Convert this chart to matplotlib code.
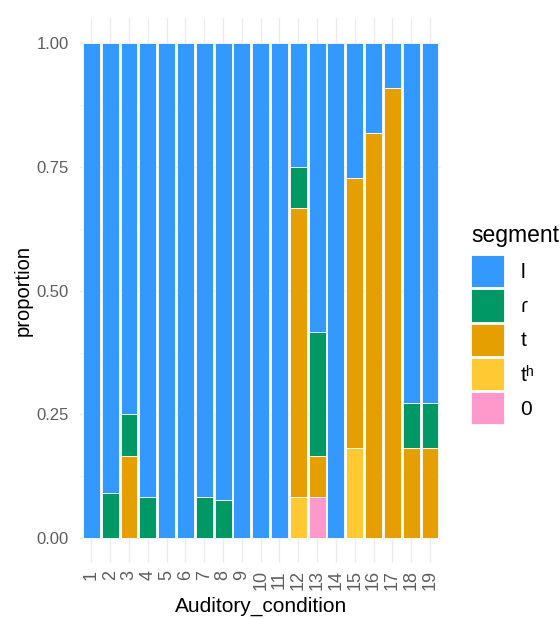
import matplotlib
matplotlib.use('Agg')
import matplotlib.pyplot as plt
from matplotlib.patches import Patch
import numpy as np

plt.rcParams['font.family'] = ['Liberation Sans', 'DejaVu Sans']

conditions = [str(i) for i in range(1, 20)]
segments = ['l', 'ɾ', 't', 'tʰ', '0']
seg_colors = ['#3399FF', '#009966', '#E69F00', '#FFC933', '#FF99CC']

# proportion of each segment per auditory condition
p_l  = [1, 10/11, 0.75, 11/12, 1, 1, 11/12, 12/13, 1, 1, 1, 0.25, 7/12, 1, 3/11, 2/11, 1/11, 8/11, 8/11]
p_r  = [0, 1/11, 1/12, 1/12, 0, 0, 1/12, 1/13, 0, 0, 0, 1/12, 0.25, 0, 0, 0, 0, 1/11, 1/11]
p_t  = [0, 0, 1/6, 0, 0, 0, 0, 0, 0, 0, 0, 7/12, 1/12, 0, 6/11, 9/11, 10/11, 2/11, 2/11]
p_th = [0, 0, 0, 0, 0, 0, 0, 0, 0, 0, 0, 1/12, 0, 0, 2/11, 0, 0, 0, 0]
p_0  = [0, 0, 0, 0, 0, 0, 0, 0, 0, 0, 0, 0, 1/12, 0, 0, 0, 0, 0, 0]
props = [p_l, p_r, p_t, p_th, p_0]

fig = plt.figure(figsize=(5.6, 6.19), dpi=100)
ax = fig.add_axes([0.143, 0.0905, 0.645, 0.880])

x = np.arange(len(conditions))
bottom = np.zeros(len(conditions))
# stack from the last level upward so 'l' ends up on top
for vals, col in zip(props[::-1], seg_colors[::-1]):
    vals = np.array(vals)
    ax.bar(x, vals, bottom=bottom, width=0.9, color=col,
           edgecolor='white', linewidth=0.6, zorder=2)
    bottom += vals

ax.set_xlim(-0.6, len(conditions) - 0.4)
ax.set_ylim(-0.05, 1.05)
ax.set_yticks([0, 0.25, 0.5, 0.75, 1.0])
ax.set_yticklabels(['0.00', '0.25', '0.50', '0.75', '1.00'])
ax.set_yticks([0.125, 0.375, 0.625, 0.875], minor=True)
ax.set_xticks(x)
ax.set_xticklabels(conditions, rotation=90)

ax.grid(True, which='major', color='#EBEBEB', linewidth=1.0, zorder=0)
ax.grid(True, which='minor', axis='y', color='#F3F3F3', linewidth=0.6, zorder=0)
ax.tick_params(which='both', length=0, colors='#5E5E5E')
ax.tick_params(axis='y', labelsize=12, pad=8)
ax.tick_params(axis='x', labelsize=13, pad=5)
for s in ax.spines.values():
    s.set_visible(False)

ax.set_xlabel('Auditory_condition', fontsize=15, labelpad=5)
ax.set_ylabel('proportion', fontsize=14.5, labelpad=3)

handles = [Patch(facecolor=c, edgecolor='white', linewidth=0.6) for c in seg_colors]
leg = fig.legend(handles, segments, title='segment', loc='upper left',
                 bbox_to_anchor=(0.827, 0.652), frameon=False,
                 fontsize=15, title_fontsize=16.5, handlelength=1.55,
                 handleheight=2.0, labelspacing=0.1, handletextpad=0.8,
                 borderaxespad=0)
leg._legend_box.align = 'left'
leg._legend_box.sep = 6

fig.savefig('out.png', dpi=100)
